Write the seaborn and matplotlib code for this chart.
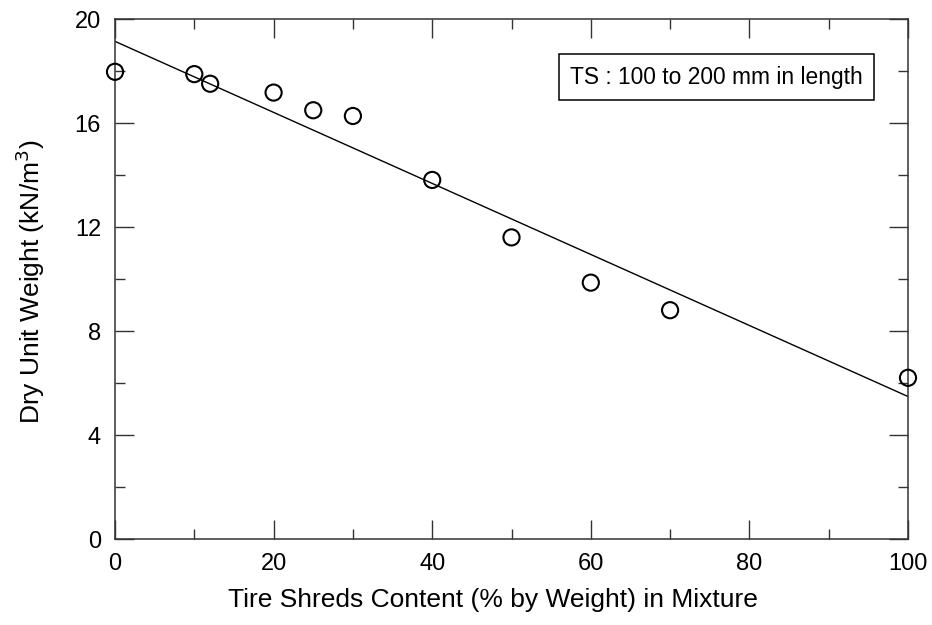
import matplotlib
matplotlib.use("Agg")
import matplotlib.pyplot as plt
import seaborn as sns
import numpy as np
import pandas as pd
from matplotlib.ticker import MultipleLocator

# Data
ts_content = [0, 10, 12, 20, 25, 30, 40, 50, 60, 70, 100]
dry_unit_weight = [17.97, 17.88, 17.51, 17.17, 16.49, 16.27, 13.81, 11.60, 9.86, 8.80, 6.20]
fit_x = [0, 100]
fit_y = [19.14, 5.48]
x_ticks = [0, 20, 40, 60, 80, 100]
y_ticks = [0, 4, 8, 12, 16, 20]

sns.set_theme(style="ticks")
plt.rcParams['font.family'] = ['Liberation Sans', 'DejaVu Sans']
plt.rcParams['text.color'] = 'black'
plt.rcParams['axes.labelcolor'] = 'black'
plt.rcParams['xtick.color'] = 'black'
plt.rcParams['ytick.color'] = 'black'

fig = plt.figure(figsize=(9.32, 6.25), dpi=100)
ax = fig.add_axes([115/932, 1-539/625, (908-115)/932, (539-19)/625])

df = pd.DataFrame({"x": ts_content, "y": dry_unit_weight})
sns.lineplot(x=fit_x, y=fit_y, ax=ax, color="black", linewidth=1.0)
sns.scatterplot(data=df, x="x", y="y", ax=ax, marker="o", s=135,
                facecolors="none", edgecolors="black", linewidth=1.5,
                clip_on=False, zorder=5)

ax.set_xlim(0, 100)
ax.set_ylim(0, 20)
ax.set_xticks(x_ticks)
ax.set_yticks(y_ticks)
ax.xaxis.set_minor_locator(MultipleLocator(10))
ax.yaxis.set_minor_locator(MultipleLocator(2))
ax.tick_params(which="both", direction="in", top=True, right=True, color="#333333", width=1.0)
ax.tick_params(which="major", length=14, labelsize=17, pad=10, labelcolor="black")
ax.tick_params(which="minor", length=7)
for s in ax.spines.values():
    s.set_color("#333333")
    s.set_linewidth(1.1)

ax.set_xlabel("Tire Shreds Content (% by Weight) in Mixture", fontsize=19)
ax.set_ylabel("Dry Unit Weight (kN/m$^3$)", fontsize=19)
ax.xaxis.set_label_coords(0.477, -0.095)
ax.yaxis.set_label_coords(-0.086, 0.495)

ax.text(0.7585, 0.888, "TS : 100 to 200 mm in length", transform=ax.transAxes,
        fontsize=16.4, ha="center", va="center",
        bbox=dict(boxstyle="square,pad=0.5", facecolor="white", edgecolor="black", linewidth=1.1))

fig.savefig("out.png", dpi=100)
